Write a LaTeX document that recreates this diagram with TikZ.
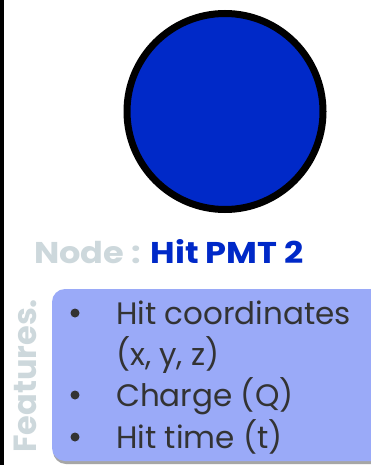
\documentclass[tikz,border=0pt]{standalone}
\usepackage{fontspec}
\setmainfont{Poppins}
\newfontfamily\titlefont[FakeStretch=1.12]{Poppins}
\definecolor{pmtblue}{HTML}{0029C8}
\definecolor{lightgray}{HTML}{CDD8DC}
\definecolor{boxfill}{HTML}{9AAAF8}
\definecolor{textdark}{HTML}{333333}
\tikzset{
  feat/.style={anchor=base west, text=textdark, font=\fontsize{31}{36}\selectfont, inner sep=0pt},
  bul/.style={circle, fill=textdark, inner sep=0pt, minimum size=9pt},
}
\begin{document}
\begin{tikzpicture}[x=1pt,y=-1pt]
\useasboundingbox (0,0) rectangle (370,465);
\fill[white] (0,0) rectangle (370,465);
\draw[line width=3.5pt] (1.75,0) -- (1.75,465);
\node[circle, draw=black, line width=7pt, fill=pmtblue, minimum size=196pt, inner sep=0pt] (pmt) at (225,111.5) {};
\node[anchor=base west, inner sep=0pt, font=\titlefont\bfseries\fontsize{30}{34}\selectfont] (title) at (34,263) {\textcolor{lightgray}{Node :} \textcolor{pmtblue}{Hit PMT 2}};
\fill[gray!70, rounded corners=13pt] (53,293) rectangle (385,464);
\fill[boxfill, rounded corners=13pt] (52,289) rectangle (385,461);
\node[anchor=base west, inner sep=0pt, rotate=90, text=lightgray, font=\bfseries\fontsize{32}{36}\selectfont] (feat) at (36,453) {Features.};
\node[bul] (b1) at (75,313) {};
\node[bul] (b2) at (75,395) {};
\node[bul] (b3) at (75,437) {};
\node[feat] (t1) at (116,324) {Hit coordinates};
\node[feat] (t2) at (116,365) {(x, y, z)};
\node[feat] (t3) at (116,406) {Charge (Q)};
\node[feat] (t4) at (116,448) {Hit time (t)};
\end{tikzpicture}
\end{document}
